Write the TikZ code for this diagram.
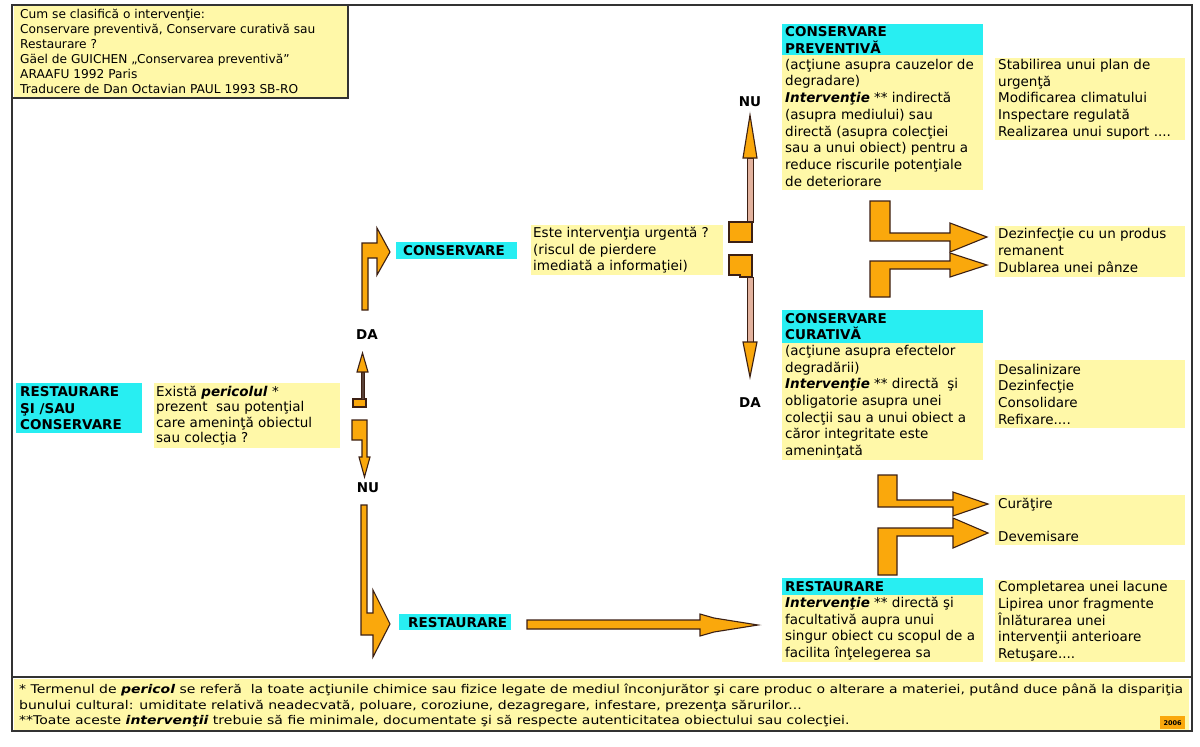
\documentclass[tikz,border=0pt]{standalone}
\usepackage{fontspec}
\setmainfont{DejaVu Sans}
\usetikzlibrary{calc}
\definecolor{ylw}{RGB}{255,248,168}
\definecolor{cyn}{RGB}{40,238,242}
\definecolor{orng}{RGB}{250,168,12}
\definecolor{tanc}{RGB}{226,178,158}
\definecolor{edgec}{RGB}{60,32,20}
\newcommand\fbig{\fontsize{13.5}{16.7}\selectfont}
\newcommand\fmid{\fontsize{13.5}{15.5}\selectfont}
\newcommand\fsmall{\fontsize{12.2}{15}\selectfont}
\newcommand\ffoot{\fontsize{12}{15.5}\selectfont}
\newcommand\bi[1]{\textbf{\textit{#1}}}
\newcommand\footA{* Termenul de \bi{pericol} se referă\ \ la toate acţiunile chimice sau fizice legate de mediul înconjurător şi care produc o alterare a materiei, putând duce până la dispariţia}
\newcommand\footB{bunului cultural: umiditate relativă neadecvată, poluare, coroziune, dezagregare, infestare, prezenţa sărurilor...}
\newcommand\footC{**Toate aceste \bi{intervenţii} trebuie să fie minimale, documentate şi să respecte autenticitatea obiectului sau colecţiei.}
\newlength\flen
\begin{document}
\settowidth\flen{\ffoot\footA}%
\pgfmathsetmacro\fsx{1164/\flen}%
\begin{tikzpicture}[x=1pt,y=-1pt,
  yfill/.style={anchor=north west, fill=ylw, inner sep=0pt},
  cfill/.style={anchor=north west, fill=cyn, inner sep=0pt},
  txt/.style={anchor=west, align=left, inner sep=0pt, font=\fbig},
  hdr/.style={anchor=west, align=left, inner sep=0pt, font=\fbig\bfseries},
  blk/.style={fill=orng, draw=edgec, line width=1.1pt, line join=miter},
  shaft/.style={fill=tanc, draw=edgec, line width=0.9pt},
  lbl/.style={font=\fbig\bfseries, inner sep=0pt},
  frame/.style={draw=black!80, line width=1.4pt}
]
\useasboundingbox (0,0) rectangle (1200,747);
\fill[white] (0,0) rectangle (1200,747);

% ---------- top-left note
\node[yfill, minimum width=333, minimum height=92] (tlb) at (14,5) {};
\node[txt, font=\fsmall] (tlt) at ($(tlb.west)+(6,0)$) {Cum se clasifică o intervenţie:\\Conservare preventivă, Conservare curativă sau\\Restaurare ?\\Gäel de GUICHEN „Conservarea preventivă”\\ARAAFU 1992 Paris\\Traducere de Dan Octavian PAUL 1993 SB-RO};

% ---------- left column
\node[cfill, minimum width=126, minimum height=50] (rsb) at (16,383) {};
\node[hdr] (rst) at ($(rsb.west)+(4,0)$) {RESTAURARE\\ŞI /SAU\\CONSERVARE};
\node[yfill, minimum width=186, minimum height=65] (exb) at (154,383) {};
\node[txt, font=\fmid] (ext) at ($(exb.west)+(2,0)$) {Există \bi{pericolul} *\\prezent\ \ sau potenţial\\care ameninţă obiectul\\sau colecţia ?};

% ---------- middle
\node[cfill, minimum width=121, minimum height=17] (cob) at (396,242) {};
\node[hdr] (cot) at ($(cob.west)+(7,0)$) {CONSERVARE};
\node[yfill, minimum width=192, minimum height=50] (urb) at (531,225) {};
\node[txt] (urt) at ($(urb.west)+(2,0)$) {Este intervenţia urgentă ?\\(riscul de pierdere\\imediată a informaţiei)};
\node[cfill, minimum width=112, minimum height=16] (reb) at (399,614) {};
\node[hdr] (ret) at ($(reb.west)+(9,0)$) {RESTAURARE};

\node[lbl] (da1) at (367,335) {DA};
\node[lbl] (nu1) at (368,488) {NU};
\node[lbl] (nu2) at (750,102) {NU};
\node[lbl] (da2) at (750,403) {DA};

% ---------- right: conservare preventiva
\node[cfill, minimum width=201, minimum height=31] (cpb) at (782,24) {};
\node[hdr] (cpt) at ($(cpb.west)+(3,0)$) {CONSERVARE\\PREVENTIVĂ};
\node[yfill, minimum width=201, minimum height=135] (cpy) at (782,55) {};
\node[txt] (cpx) at ($(cpy.west)+(3,0)$) {(acţiune asupra cauzelor de\\degradare)\\\bi{Intervenţie} ** indirectă\\(asupra mediului) sau\\directă (asupra colecţiei\\sau a unui obiect) pentru a\\reduce riscurile potenţiale\\de deteriorare};
\node[yfill, minimum width=190, minimum height=82] (stb) at (995,58) {};
\node[txt] (stt) at ($(stb.west)+(3,0)$) {Stabilirea unui plan de\\urgenţă\\Modificarea climatului\\Inspectare regulată\\Realizarea unui suport ....};
\node[yfill, minimum width=190, minimum height=51] (dzb) at (995,226) {};
\node[txt] (dzt) at ($(dzb.west)+(3,0)$) {Dezinfecţie cu un produs\\remanent\\Dublarea unei pânze};

% ---------- right: conservare curativa
\node[cfill, minimum width=201, minimum height=33] (ccb) at (782,310) {};
\node[hdr] (cct) at ($(ccb.west)+(3,0)$) {CONSERVARE\\CURATIVĂ};
\node[yfill, minimum width=201, minimum height=117] (ccy) at (782,343) {};
\node[txt] (ccx) at ($(ccy.west)+(3,0)$) {(acţiune asupra efectelor\\degradării)\\\bi{Intervenţie} ** directă\ \ şi\\obligatorie asupra unei\\colecţii sau a unui obiect a\\căror integritate este\\ameninţată};
\node[yfill, minimum width=190, minimum height=68] (dsb) at (995,360) {};
\node[txt] (dst) at ($(dsb.west)+(3,0)$) {Desalinizare\\Dezinfecţie\\Consolidare\\Refixare....};
\node[yfill, minimum width=190, minimum height=50] (cub) at (995,495) {};
\node[txt] (cut) at ($(cub.west)+(3,0)$) {Curăţire\\[16pt]Devemisare};

% ---------- right: restaurare
\node[cfill, minimum width=201, minimum height=17] (rrb) at (782,578) {};
\node[hdr] (rrt) at ($(rrb.west)+(3,0)$) {RESTAURARE};
\node[yfill, minimum width=201, minimum height=67] (rry) at (782,595) {};
\node[txt] (rrx) at ($(rry.west)+(3,0)$) {\bi{Intervenţie} ** directă şi\\facultativă aupra unui\\singur obiect cu scopul de a\\facilita înţelegerea sa};
\node[yfill, minimum width=190, minimum height=82] (cob2) at (995,580) {};
\node[txt] (cot2) at ($(cob2.west)+(3,0)$) {Completarea unei lacune\\Lipirea unor fragmente\\Înlăturarea unei\\intervenţii anterioare\\Retuşare....};

% ---------- footer
\node[yfill, minimum width=1175, minimum height=51] (ftb) at (14,679) {};
\node[anchor=north west, align=left, inner sep=0pt, font=\ffoot] (ftt) at (19,684) {\scalebox{\fsx}[1]{\footA}\\\scalebox{\fsx}[1]{\footB}\\\scalebox{\fsx}[1]{\footC}};
\node[anchor=north west, fill=orng, inner sep=0pt, minimum width=25, minimum height=13, font=\fontsize{6.5}{7}\selectfont\bfseries] (yr) at (1160,716) {2006};

% ---------- block arrows, left part
\draw[blk] (353,399) rectangle (366,407);
\draw[shaft, fill=edgec!85] (361,399) rectangle (364,372);
\draw[blk] (362.5,353) -- (368,372) -- (357,372) -- cycle;
\draw[blk] (352,420) -- (367,420) -- (367,457) -- (370,457) -- (364.5,477) -- (359,457) -- (362,457) -- (362,440) -- (352,440) -- cycle;
\draw[blk] (362,310) -- (362,243) -- (377,243) -- (377,228) -- (390,252) -- (377,275) -- (377,258) -- (368,258) -- (368,310) -- cycle;
\draw[blk] (361,505) -- (367,505) -- (367,613) -- (373,613) -- (373,590) -- (390,624) -- (373,657) -- (373,635) -- (361,635) -- cycle;
\draw[blk] (527,620) -- (700,620) -- (700,614) -- (714,618) -- (758,625) -- (714,632) -- (700,636) -- (700,629) -- (527,629) -- cycle;

% ---------- NU / DA arrows (middle)
\draw[shaft] (747,158) rectangle (753,222);
\draw[blk] (750,115) -- (757,158) -- (743,158) -- cycle;
\draw[blk] (729,222) rectangle (752,242);
\draw[shaft] (747,277) rectangle (753,342);
\draw[blk] (729,255) -- (752,255) -- (752,277) -- (740,277) -- (740,275) -- (729,275) -- cycle;
\draw[blk] (743,342) -- (757,342) -- (750,377) -- cycle;

% ---------- fork arrows
\draw[blk] (870,201) -- (890,201) -- (890,233) -- (950,233) -- (950,223) -- (987,237) -- (950,252) -- (950,241) -- (870,241) -- cycle;
\draw[blk] (870,297) -- (870,261) -- (950,261) -- (950,253) -- (987,265) -- (950,277) -- (950,269) -- (890,269) -- (890,297) -- cycle;
\draw[blk] (878,475) -- (897,475) -- (897,500) -- (953,500) -- (953,492) -- (988,504) -- (953,516) -- (953,507) -- (878,507) -- cycle;
\draw[blk] (878,575) -- (878,528) -- (953,528) -- (953,518) -- (988,533) -- (953,548) -- (953,536) -- (897,536) -- (897,575) -- cycle;

% ---------- frame
\draw[frame] (12,5) rectangle (1192,731);
\draw[frame] (12,677) -- (1192,677);
\draw[frame] (348,5) -- (348,98) -- (12,98);
\end{tikzpicture}
\end{document}
